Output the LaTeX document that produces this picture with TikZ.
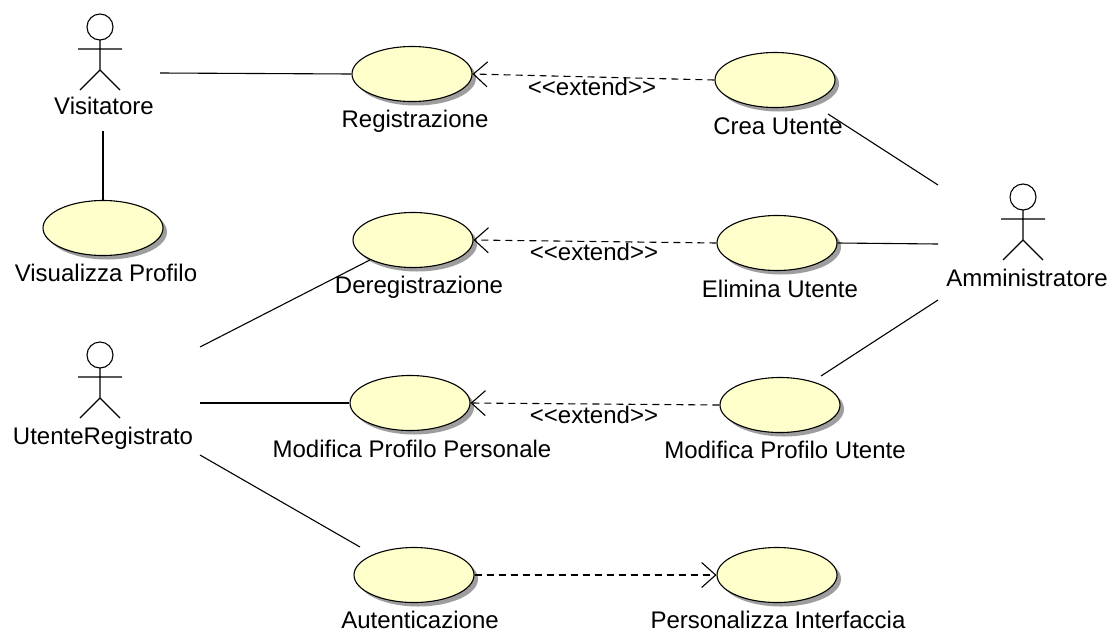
\documentclass[tikz,border=0pt]{standalone}
\usepackage{fontspec}
\setmainfont{Liberation Sans}
\usetikzlibrary{shapes.geometric,shadows,arrows.meta}
\definecolor{ucfill}{RGB}{255,255,204}
\begin{document}
\begin{tikzpicture}[x=1pt,y=-1pt]
\tikzset{
  uc/.style={ellipse, draw, line width=1.1pt, fill=ucfill, minimum width=120pt, minimum height=55pt, inner sep=0pt,
    drop shadow={shadow xshift=4pt, shadow yshift=-4pt, opacity=1, fill=black!38}},
  lbl/.style={anchor=base, inner sep=0pt, font=\fontsize{24}{28}\selectfont},
  assoc/.style={line width=1.1pt},
  dep/.style={line width=1.1pt, dash pattern=on 7pt off 5pt, -{Straight Barb[length=14pt,width=25pt,line width=1.1pt]}},
  actorline/.style={line width=1.1pt},
  actor/.pic={\draw[actorline] (0,0) circle[radius=13pt];
              \draw[actorline] (0,13)--(0,43) (-22,22)--(22,22) (-20,63)--(0,43)--(20,63);}
}
\fill[white] (0,0) rectangle (1110,632);
\useasboundingbox (0,0) rectangle (1110,632);

% actors
\pic (aVis) at (100,27) {actor};
\pic (aUR) at (100,355) {actor};
\pic (aAmm) at (1023,197) {actor};
\node[lbl] (tVis) at (104,114) {Visitatore};
\node[lbl] (tUR) at (103,444) {UtenteRegistrato};
\node[lbl] (tAmm) at (1027,286) {Amministratore};

% use cases
\node[uc] (reg) at (412,74) {};
\node[uc] (crea) at (775,80) {};
\node[uc] (vis) at (103,228) {};
\node[uc] (dereg) at (413,240) {};
\node[uc] (elim) at (777,243) {};
\node[uc] (mpp) at (410,403) {};
\node[uc] (mpu) at (780,405) {};
\node[uc] (aut) at (414,575) {};
\node[uc] (pers) at (777,575) {};

\node[lbl] (tReg) at (415,127) {Registrazione};
\node[lbl] (tCrea) at (778,134) {Crea Utente};
\node[lbl] (tVisP) at (106,281) {Visualizza Profilo};
\node[lbl] (tDereg) at (419,293) {Deregistrazione};
\node[lbl] (tElim) at (780,297) {Elimina Utente};
\node[lbl] (tMpp) at (412,457) {Modifica Profilo Personale};
\node[lbl] (tMpu) at (785,458) {Modifica Profilo Utente};
\node[lbl] (tAut) at (420,628) {Autenticazione};
\node[lbl] (tPers) at (778,628) {Personalizza Interfaccia};

% connector end points
\coordinate (visR) at (160,73);
\coordinate (visB) at (103,131);
\coordinate (urUp) at (200,347);
\coordinate (urMid) at (200,403);
\coordinate (urLow) at (200,455);
\coordinate (autNW) at (360,547);
\coordinate (creaE) at (828,114);
\coordinate (mpuNE) at (821,376);
\coordinate (ammUp) at (938,185);
\coordinate (ammMid) at (938,244);
\coordinate (ammLow) at (938,300);

% associations
\draw[assoc] (visR) -- (reg.west);
\draw[assoc] (visB) -- (vis.north);
\draw[assoc] (creaE) -- (ammUp);
\draw[assoc] (elim.east) -- (ammMid);
\draw[assoc] (mpuNE) -- (ammLow);
\draw[assoc] (urUp) -- (dereg.south west);
\draw[assoc] (urMid) -- (mpp.west);
\draw[assoc] (urLow) -- (autNW);

% dependencies
\draw[dep] (crea.west) -- (reg.east);
\draw[dep] (elim.west) -- (dereg.east);
\draw[dep] (mpu.west) -- (mpp.east);
\draw[dep] (aut.east) -- (pers.west);

\node[lbl] (x1) at (592,95) {{<}{<}extend{>}{>}};
\node[lbl] (x2) at (594,260) {{<}{<}extend{>}{>}};
\node[lbl] (x3) at (594,423) {{<}{<}extend{>}{>}};
\end{tikzpicture}
\end{document}
